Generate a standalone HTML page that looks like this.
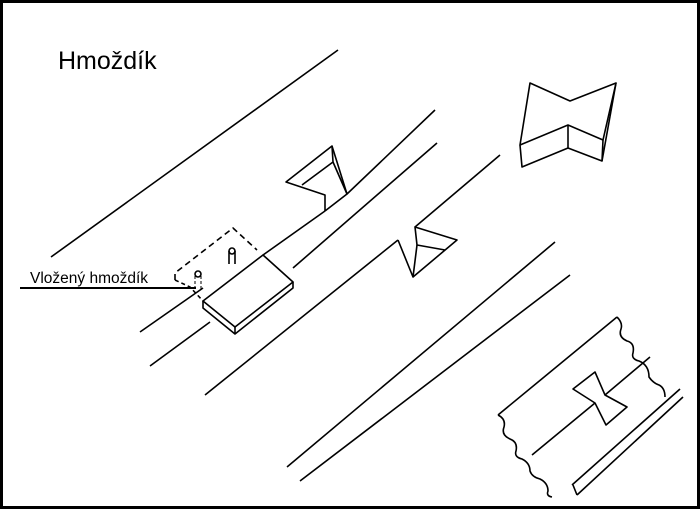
<!DOCTYPE html>
<html><head><meta charset="utf-8"><style>
html,body{margin:0;padding:0;background:#fff}
svg{display:block}
text{font-family:"Liberation Sans","DejaVu Sans",sans-serif;fill:#000}
</style></head><body>
<svg width="700" height="509" viewBox="0 0 700 509" xmlns="http://www.w3.org/2000/svg">
<rect x="1.5" y="1.5" width="697" height="506" fill="#fff" stroke="#000" stroke-width="3"/>
<text x="58" y="69" font-size="25">Hmoždík</text>
<text x="30" y="283" font-size="15.5">Vložený hmoždík</text>
<g fill="none" stroke="#000" stroke-width="1.6" stroke-linejoin="round">
<line x1="20" y1="288" x2="196" y2="288" stroke-width="2"/>
<line x1="51" y1="257" x2="338" y2="50"/>
<line x1="140" y1="332" x2="203" y2="288"/>
<line x1="263" y1="255" x2="325" y2="211"/>
<line x1="347" y1="194" x2="435" y2="110"/>
<line x1="150" y1="366" x2="210" y2="322"/>
<line x1="293" y1="268" x2="437" y2="143"/>
<line x1="205" y1="395" x2="398" y2="240"/>
<line x1="415" y1="227" x2="500" y2="155"/>
<line x1="287" y1="467" x2="555" y2="242"/>
<line x1="300" y1="481" x2="570" y2="275"/>
<polyline points="325,211 325,195 286,182 332,146 347,194 325,211"/>
<polyline points="302,185 333,162 332,146"/>
<line x1="333" y1="162" x2="347" y2="194"/>
<polyline points="398,240 413,277 457,240 415,227 417,245 445,250"/>
<line x1="417" y1="245" x2="413" y2="277"/>
<polygon points="203,301 263,255 293,282 235,327"/>
<polyline points="203,301 203,308 235,334 293,288 293,282"/>
<line x1="235" y1="327" x2="235" y2="334"/>
<polyline points="175,280 175,273 233,228 257,250" stroke-dasharray="6,4"/>
<polyline points="175,280 190,287 203,301" stroke-dasharray="4,3"/>
<circle cx="198" cy="274" r="3"/>
<line x1="195" y1="276" x2="195" y2="290" stroke-dasharray="3,2" stroke-width="1"/>
<line x1="201" y1="276" x2="201" y2="290" stroke-dasharray="3,2" stroke-width="1"/>
<ellipse cx="232" cy="251" rx="3" ry="3"/>
<line x1="229" y1="251" x2="229" y2="264"/>
<line x1="235" y1="251" x2="235" y2="264"/>
<polygon points="530,83 570,101 616,83 603,140 568,125 520,145"/>
<polyline points="520,145 522,167 568,148 602,161 603,140"/>
<line x1="568" y1="125" x2="568" y2="148"/>
<line x1="616" y1="83" x2="602" y2="161"/>
<line x1="498" y1="415" x2="617" y2="317"/>
<line x1="532" y1="455" x2="595" y2="403"/>
<line x1="605" y1="395" x2="650" y2="357"/>
<polygon points="573,389 595,372 605,395 627,407 606,425 595,403"/>
<line x1="572" y1="485" x2="680" y2="389"/>
<line x1="577" y1="495" x2="683" y2="397"/>
<path d="M617,317 q6,6 4,12 q-3,8 6,12 q8,2 6,12 q-2,6 6,8 q10,4 10,16 q4,6 10,8 q6,3 6,12"/>
<path d="M498,415 q8,4 6,12 q-3,8 6,12 q8,3 6,12 q-2,6 6,8 q8,4 8,12 q2,6 10,8 q8,4 8,12 q-2,5 4,6"/>
<line x1="573" y1="485" x2="577" y2="495"/>
</g>
</svg>
</body></html>
